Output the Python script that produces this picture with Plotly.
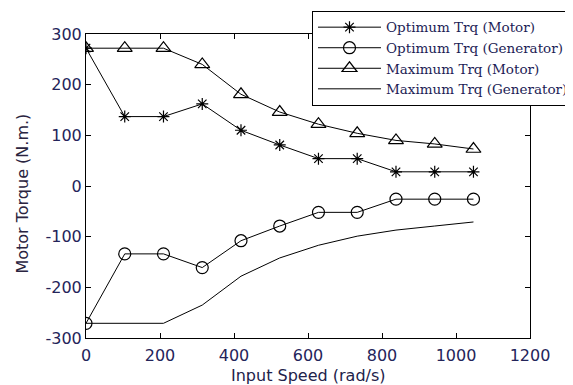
import plotly.graph_objects as go

speed = [0, 104.7, 209.4, 314.2, 418.9, 523.6, 628.3, 733.0, 837.8, 942.5, 1047.2]
opt_motor = [272, 137, 137, 162, 110, 81, 54, 54, 28, 28, 28]
opt_gen = [-271, -134, -134, -161, -108, -79, -52, -52, -26, -26, -26]
max_motor = [272, 272, 272, 240, 181, 146, 122, 104, 90, 83, 73]
max_gen = [-271, -271, -271, -235, -178, -142, -117, -99, -87, -79, -71]

x_ticks = [0, 200, 400, 600, 800, 1000, 1200]
y_ticks = [-300, -200, -100, 0, 100, 200, 300]

names = ["Optimum Trq (Motor)", "Optimum Trq (Generator)",
         "Maximum Trq (Motor)", "Maximum Trq (Generator)"]
x_title = "Input Speed (rad/s)"
y_title = "Motor Torque (N.m.)"

fig = go.Figure()
line = dict(color="black", width=1)
fig.add_trace(go.Scatter(x=speed, y=opt_motor, mode="lines+markers", name=names[0], line=line,
                         marker=dict(symbol="asterisk-open", size=10, color="black",
                                     line=dict(color="black", width=1.2))))
fig.add_trace(go.Scatter(x=speed, y=opt_gen, mode="lines+markers", name=names[1], line=line,
                         marker=dict(symbol="circle-open", size=12, color="black",
                                     line=dict(color="black", width=1.2))))
fig.add_trace(go.Scatter(x=speed, y=max_motor, mode="lines+markers", name=names[2], line=line,
                         marker=dict(symbol="triangle-up-open", size=13, color="black",
                                     line=dict(color="black", width=1.2))))
fig.add_trace(go.Scatter(x=speed, y=max_gen, mode="lines", name=names[3], line=line))

tick_color = "#24245a"
axis_common = dict(showline=True, linecolor="black", linewidth=1, mirror="ticks",
                   ticks="inside", ticklen=5, tickcolor="black", showgrid=False,
                   zeroline=False, automargin=False,
                   tickfont=dict(family="DejaVu Sans", size=16, color=tick_color))

fig.update_xaxes(range=[0, 1200], tickvals=x_ticks, ticktext=[str(v) for v in x_ticks],
                 ticklabelstandoff=3, **axis_common)
fig.update_yaxes(range=[-300, 300], tickvals=y_ticks, ticktext=[str(v) for v in y_ticks],
                 **axis_common)

fig.add_annotation(text=x_title, xref="paper", yref="paper", x=0.5, y=0, yshift=-37,
                   xanchor="center", yanchor="middle", showarrow=False,
                   font=dict(family="DejaVu Sans", size=16, color="#22224a"))
fig.add_annotation(text=y_title, xref="paper", yref="paper", x=0, y=0.475, xshift=-63,
                   xanchor="center", yanchor="middle", showarrow=False, textangle=-90,
                   font=dict(family="DejaVu Sans", size=16, color="#2a2440"))

# page body has an 8px margin, so the figure is 8px smaller and left/top margins shifted
fig.update_layout(
    width=565, height=377,
    margin=dict(l=78, r=43, t=26, b=47, autoexpand=False),
    paper_bgcolor="white", plot_bgcolor="white",
    showlegend=True,
    legend=dict(x=0.509, y=1.076, xanchor="left", yanchor="top",
                bgcolor="white", bordercolor="black", borderwidth=1,
                font=dict(family="DejaVu Serif", size=13.5, color="#1c1c55"),
                itemwidth=63, tracegroupgap=0),
)

fig.write_html("out.html")
